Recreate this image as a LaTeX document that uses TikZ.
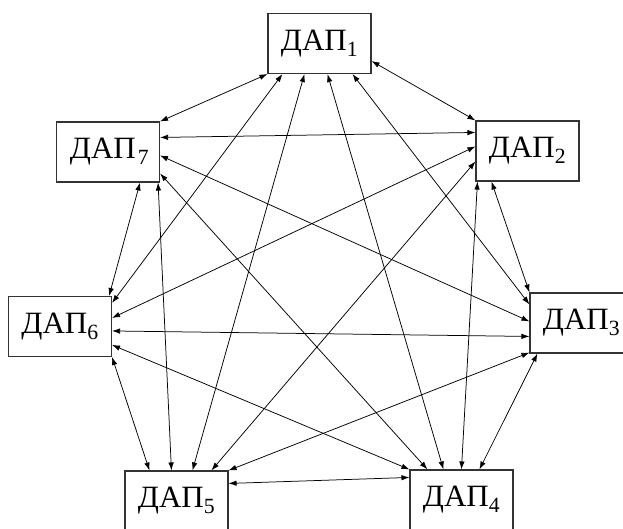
\documentclass[tikz,border=0pt]{standalone}
\usepackage{fontspec}
\setmainfont{Liberation Serif}
\usepackage{tikz}
\usetikzlibrary{arrows.meta}
\tikzstyle{dap}=[draw=black!80,line width=1.1pt,fill=white,rectangle,minimum width=103pt,minimum height=60pt,inner sep=0pt,font=\fontsize{31}{34}\selectfont]
\tikzstyle{link}=[line width=0.75pt,{Latex[length=8pt,width=5.5pt]}-{Latex[length=8pt,width=5.5pt]}]

\begin{document}
\begin{tikzpicture}[x=1pt,y=-1pt]
\useasboundingbox (0,0) rectangle (623,529);
\tikzstyle{dap}=[draw=black!80,line width=1.1pt,fill=white,rectangle,minimum width=103pt,minimum height=60pt,inner sep=0pt,font=\fontsize{31}{34}\selectfont]

\node [dap] (d1) at (319.5,43.5) {ДАП\textsubscript{1}};
\node [dap] (d2) at (527.5,151) {ДАП\textsubscript{2}};
\node [dap] (d3) at (581.5,323) {ДАП\textsubscript{3}};
\node [dap] (d4) at (461.5,500) {ДАП\textsubscript{4}};
\node [dap] (d5) at (176.5,501) {ДАП\textsubscript{5}};
\node [dap] (d6) at (60,326.5) {ДАП\textsubscript{6}};
\node [dap] (d7) at (108,152) {\hspace{3pt}ДАП\kern2pt\textsubscript{\raisebox{-2pt}{7}}};

% from d1
\draw [link] (d1.south west) -- (d7.north east);
\draw [link] ([xshift=15pt]d1.south west) -- ([yshift=-7pt]d6.north east);
\draw [link] ([xshift=37pt]d1.south west) -- ([xshift=68pt]d5.north west);
\draw [link] ([xshift=60pt]d1.south west) -- ([xshift=34pt]d4.north west);
\draw [link] ([xshift=85pt]d1.south west) -- ([yshift=-12pt]d3.north west);
\draw [link] ([yshift=13pt]d1.south east) -- (d2.north west);

% from d2
\draw [link] ([yshift=-12pt]d2.north west) -- ([yshift=-16pt]d7.north east);
\draw [link] ([yshift=-26pt]d2.north west) -- ([yshift=-22pt]d6.north east);
\draw [link] ([yshift=-41pt]d2.north west) -- ([xshift=87pt]d5.north west);
\draw [link] ([xshift=2pt]d2.south west) -- ([xshift=52pt]d4.north west);
\draw [link] ([xshift=16pt]d2.south west) -- (d3.north west);

% from d3
\draw [link] ([yshift=-29pt]d3.north west) -- ([yshift=-34pt]d7.north east);
\draw [link] ([yshift=-44pt]d3.north west) -- ([yshift=-35pt]d6.north east);
\draw [link] ([yshift=1pt]d3.south west) -- (d5.north east);
\draw [link] ([xshift=8pt]d3.south west) -- ([xshift=70pt]d4.north west);

% from d4
\draw [link] ([xshift=18pt]d4.north west) -- ([yshift=-52pt]d7.north east);
\draw [link] (d4.north west) -- ([yshift=-49pt]d6.north east);
\draw [link] ([yshift=-8pt]d4.north west) -- ([yshift=-13pt]d5.north east);

% from d5
\draw [link] ([xshift=47pt]d5.north west) -- ([xshift=-2pt]d7.south east);
\draw [link] ([xshift=25pt]d5.north west) -- (d6.south east);

% d6 -- d7
\draw [link] ([xshift=-3pt]d6.north east) -- ([xshift=-20pt]d7.south east);

\end{tikzpicture}
\end{document}
